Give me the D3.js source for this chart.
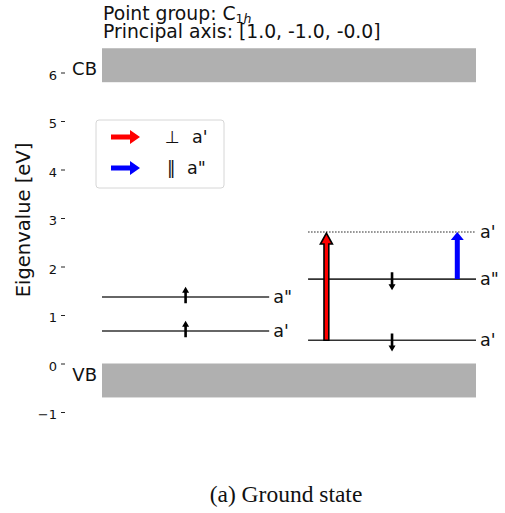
<!DOCTYPE html>
<html><head><meta charset="utf-8">
<script src="https://cdn.jsdelivr.net/npm/d3@7"></script>
<style>body{margin:0;background:#fff} svg{display:block}</style>
</head><body>
<script>
// ---- data ----
const yTicks = [-1, 0, 1, 2, 3, 4, 5, 6];
const bandNames = ["VB", "CB"];
const bandLow = [-0.7, 5.8];
const bandHigh = [0.0, 6.5];
const upEnergies = [0.67, 1.37];
const upLabels = ["a'", "a\""];
const upOccupied = [true, true];
const downEnergies = [0.48, 1.74, 2.71];
const downLabels = ["a'", "a\"", "a'"];
const downOccupied = [true, true, false];
const transFrom = [0.48, 1.74];
const transTo = [2.71, 2.71];
const transX = [0.6, 0.95];
const transColors = ["red", "blue"];
const transSymbols = ["⊥", "‖"];
const transLabels = ["a'", "a\""];
const titleLines = ["Point group: C", "Principal axis: [1.0, -1.0, -0.0]"];
const yLabel = "Eigenvalue [eV]";
const caption = "(a) Ground state";

// ---- layout ----
const W = 505, H = 513;
const svg = d3.select("body").append("svg").attr("width", W).attr("height", H)
  .style("font-family", "'DejaVu Sans', sans-serif");

const x = d3.scaleLinear().domain([0, 1]).range([102, 476]);
const y = d3.scaleLinear().domain([-1.3, 6.5]).range([363.5 + 1.3 * 48.5, 363.5 - 6.5 * 48.5]);
const upCol = [0, 0.447], downCol = [0.551, 1];

// axis
const ax = svg.append("g").attr("transform", "translate(65,0)")
  .call(d3.axisLeft(y).tickValues(yTicks).tickSize(4).tickPadding(4).tickFormat(d3.format("d")));
ax.select(".domain").remove();
ax.attr("font-size", 13).attr("font-family", "'DejaVu Sans', sans-serif");
ax.selectAll(".tick line").attr("stroke", "#222").attr("stroke-width", 1);
ax.selectAll(".tick text").style("font-size", "13px")
  .attr("fill", "#111").attr("dy", "0.5em");

// y label
svg.append("text").attr("transform", `translate(30,${220}) rotate(-90)`)
  .attr("text-anchor", "middle").attr("font-size", 19.5).attr("fill", "#111").text(yLabel);

// title
const t = svg.append("g").attr("font-size", 18.8).attr("fill", "#111");
const t1 = t.append("text").attr("x", 103).attr("y", 20).text(titleLines[0]);
const sub = t1.append("tspan").attr("font-size", 12.5).attr("dy", 2.5).text("1");
t1.append("tspan").attr("font-size", 12.5).attr("font-style", "italic").text("h");
t.append("text").attr("x", 103).attr("y", 38).text(titleLines[1]);

// bands
bandNames.forEach((nm, i) => {
  svg.append("rect").attr("x", x(0)).attr("width", x(1) - x(0))
    .attr("y", y(bandHigh[i])).attr("height", y(bandLow[i]) - y(bandHigh[i]))
    .attr("fill", "#b0b0b0");
  const ty = nm === "CB" ? y(bandLow[i]) - 7 : y(bandHigh[i]) + 17.5;
  svg.append("text").attr("x", 97).attr("y", ty).attr("text-anchor", "end")
    .attr("font-size", 18).attr("fill", "#111").text(nm);
});

// arrow polygon helper
function arrowPath(x0, y0, x1, y1, sw, hw, hl) {
  const dx = x1 - x0, dy = y1 - y0, L = Math.hypot(dx, dy);
  const ux = dx / L, uy = dy / L, px = -uy, py = ux;
  const bx = x1 - ux * hl, by = y1 - uy * hl;
  const pts = [
    [x0 + px * sw / 2, y0 + py * sw / 2],
    [bx + px * sw / 2, by + py * sw / 2],
    [bx + px * hw / 2, by + py * hw / 2],
    [x1, y1],
    [bx - px * hw / 2, by - py * hw / 2],
    [bx - px * sw / 2, by - py * sw / 2],
    [x0 - px * sw / 2, y0 - py * sw / 2]
  ];
  return d3.line()(pts) + "Z";
}

// levels
function drawLevels(energies, labels, occ, col, up) {
  energies.forEach((e, i) => {
    svg.append("line").attr("x1", x(col[0])).attr("x2", x(col[1]))
      .attr("y1", y(e)).attr("y2", y(e))
      .attr("stroke", occ[i] ? "#333" : "#222")
      .attr("stroke-width", occ[i] ? 1.6 : 1.1)
      .attr("stroke-dasharray", occ[i] ? null : "1.5,1.5");
    svg.append("text").attr("x", x(col[1]) + 4).attr("y", y(e) + 6)
      .attr("font-size", 17.5).attr("fill", "#111").text(labels[i]);
    if (occ[i]) {
      const cx = x((col[0] + col[1]) / 2);
      const a0 = up ? y(e - 0.13) : y(e + 0.14);
      const a1 = up ? y(e + 0.21) : y(e - 0.23);
      svg.append("path").attr("d", arrowPath(cx, a0, cx, a1, 2.6, 7, 6)).attr("fill", "#000");
    }
  });
}
drawLevels(upEnergies, upLabels, upOccupied, upCol, true);
drawLevels(downEnergies, downLabels, downOccupied, downCol, false);

// transitions
transFrom.forEach((f, i) => {
  const cx = x(transX[i]);
  const outlined = i === 0;
  svg.append("path")
    .attr("d", arrowPath(cx, y(f), cx, y(transTo[i]) + (outlined ? 1 : 0), outlined ? 4.8 : 5, outlined ? 12 : 13, outlined ? 11 : 8))
    .attr("fill", transColors[i])
    .attr("stroke", outlined ? "#000" : "none").attr("stroke-width", 1.6)
    .attr("stroke-linejoin", "miter");
});

// legend
const lg = svg.append("g");
lg.append("rect").attr("x", 96).attr("y", 120).attr("width", 128).attr("height", 68)
  .attr("rx", 3).attr("fill", "#fff").attr("fill-opacity", 0.8)
  .attr("stroke", "#d6d6d6").attr("stroke-width", 1);
const rowY = [137, 168];
const symX = [165, 167], labX = [192, 187];
transColors.forEach((c, i) => {
  lg.append("path").attr("d", arrowPath(111, rowY[i], 140, rowY[i], 5, 14, 10)).attr("fill", c);
  lg.append("text").attr("x", symX[i]).attr("y", rowY[i] + 6).attr("font-size", 17)
    .attr("fill", "#111").text(transSymbols[i]);
  lg.append("text").attr("x", labX[i]).attr("y", rowY[i] + 6).attr("font-size", 17.5)
    .attr("fill", "#111").text(transLabels[i]);
});

// caption
svg.append("text").attr("x", 286).attr("y", 502).attr("text-anchor", "middle")
  .attr("font-family", "'Liberation Serif', 'Times New Roman', serif")
  .attr("font-size", 23.5).attr("fill", "#111").text(caption);
</script>
</body></html>
